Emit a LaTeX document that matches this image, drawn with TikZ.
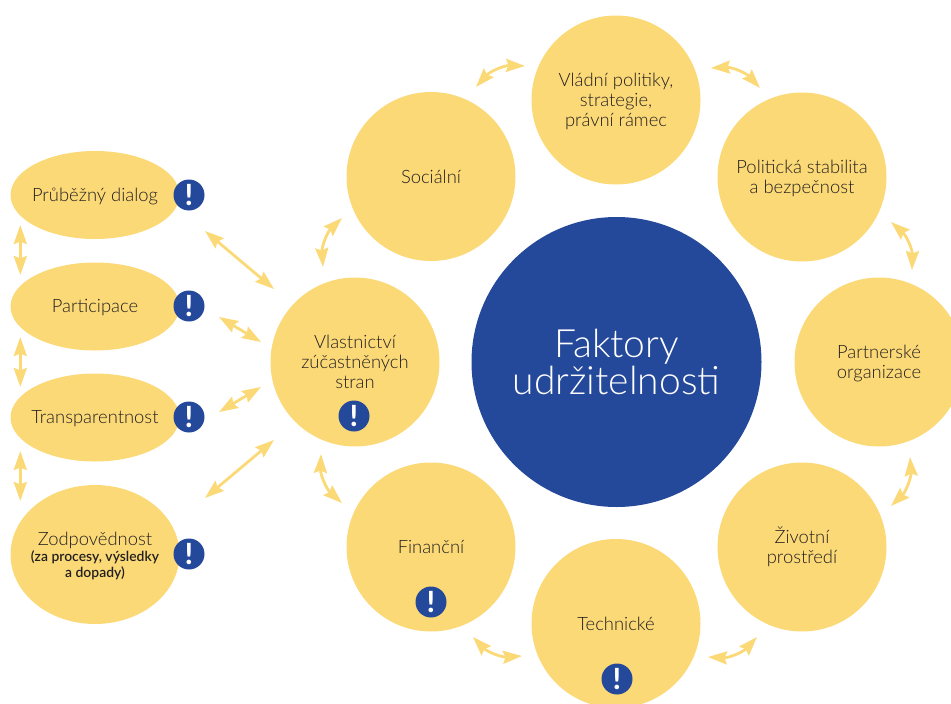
\documentclass[tikz,border=0pt]{standalone}
\usepackage{fontspec}
\setmainfont{Carlito}
\newfontfamily\lightface{Lato Light}
\usetikzlibrary{arrows.meta,shapes.geometric}
\definecolor{ylw}{HTML}{FBD977}
\definecolor{blu}{HTML}{24489A}
\definecolor{ink}{HTML}{231F20}
\tikzset{
  factor/.style={circle,fill=ylw,minimum size=169pt,inner sep=0pt,align=center,text=ink,font=\lightface\fontsize{18.4}{20}\selectfont},
  oval/.style={ellipse,fill=ylw,minimum width=169pt,inner sep=0pt},
  ovaltext/.style={align=center,inner sep=0pt,text=ink,font=\lightface\fontsize{18.4}{20}\selectfont},
  badge/.style={circle,fill=blu,minimum size=31pt,inner sep=0pt,text=white,font=\bfseries\fontsize{31}{31}\selectfont},
  dbl/.style={draw=ylw,line width=2.8pt,{Stealth[length=19pt,width=13pt,inset=2.5pt]}-{Stealth[length=19pt,width=13pt,inset=2.5pt]}},
}
\newcommand{\smallbold}{\fontsize{13.9}{16}\selectfont\bfseries}
\newcommand{\lowerit}{\rule{0pt}{17pt}}
\begin{document}
\begin{tikzpicture}[x=1pt,y=-1pt]
\useasboundingbox (0,0) rectangle (951,704);
\clip (0,0) rectangle (951,704);
\node[circle,fill=blu,minimum size=290pt,inner sep=0pt,align=center,text=white,font=\lightface\fontsize{39}{37}\selectfont] (core) at (616.5,362) {Faktory\\udržitelnosti};
\node[factor] (vlada) at (616,100) {\lowerit Vládní politiky,\\strategie,\\právní rámec};
\node[factor] (polit) at (802,177) {\lowerit Politická stabilita\\a bezpečnost};
\node[factor] (partner) at (879,362) {\lowerit Partnerské\\organizace};
\node[factor] (zivot) at (802,547) {Životní\\prostředí};
\node[factor] (tech) at (616,623.5) {Technické};
\node[factor] (fin) at (431,547) {Finanční};
\node[factor] (vlast) at (355,362) {Vlastnictví\\zúčastněných\\stran};
\node[factor] (soc) at (431,176.5) {Sociální};
\node[oval,minimum height=88pt] (dialog) at (95,195) {};
\node[oval,minimum height=88pt] (partic) at (95,306.5) {};
\node[oval,minimum height=88pt] (transp) at (95,417.5) {};
\node[oval,minimum height=139pt] (zodp) at (95,554.5) {};
\node[ovaltext,yshift=-1pt] (dialogt) at (dialog) {Průběžný dialog};
\node[ovaltext,yshift=-1pt] (partict) at (partic) {Participace};
\node[ovaltext,yshift=-1pt] (transpt) at (transp) {Transparentnost};
\node[ovaltext] (zodpt) at (95,556) {Zodpovědnost\\[-4pt]{\smallbold (za procesy, výsledky}\\[-4pt]{\smallbold a dopady)}};
\node[badge] (b1) at (189,195) {!};
\node[badge] (b2) at (189,306) {!};
\node[badge] (b3) at (189,417) {!};
\node[badge] (b4) at (189,554) {!};
\node[badge] (b5) at (354,416) {!};
\node[badge] (b6) at (431,602) {!};
\node[badge] (b7) at (617,679) {!};
\coordinate (a1) at (476,87); \coordinate (a2) at (525,66);
\coordinate (a3) at (711,68); \coordinate (a4) at (760,88);
\coordinate (a5) at (891,222); \coordinate (a6) at (912,270);
\coordinate (a7) at (910,457); \coordinate (a8) at (891,506);
\coordinate (a9) at (757,637); \coordinate (a10) at (708,657);
\coordinate (a11) at (522,656); \coordinate (a12) at (473,637);
\coordinate (a13) at (342,503); \coordinate (a14) at (321,454);
\coordinate (a15) at (323,267); \coordinate (a16) at (342,218);
\draw[dbl] (a1) to[bend left=25] (a2);
\draw[dbl] (a3) to[bend left=25] (a4);
\draw[dbl] (a5) to[bend left=25] (a6);
\draw[dbl] (a7) to[bend left=25] (a8);
\draw[dbl] (a9) to[bend left=25] (a10);
\draw[dbl] (a11) to[bend left=25] (a12);
\draw[dbl] (a13) to[bend left=25] (a14);
\draw[dbl] (a15) to[bend left=25] (a16);
\coordinate (l1) at (205,231); \coordinate (l2) at (274,289);
\coordinate (l3) at (219,317); \coordinate (l4) at (261,342);
\coordinate (l5) at (219,412); \coordinate (l6) at (261,387);
\coordinate (l7) at (205,498); \coordinate (l8) at (274,440);
\draw[dbl] (l1) -- (l2);
\draw[dbl] (l3) -- (l4);
\draw[dbl] (l5) -- (l6);
\draw[dbl] (l7) -- (l8);
\coordinate (v1) at (20.3,225); \coordinate (v2) at (20.3,275);
\coordinate (v3) at (20.3,337); \coordinate (v4) at (20.3,387);
\coordinate (v5) at (20.3,451); \coordinate (v6) at (20.3,501);
\draw[dbl] (v1) -- (v2);
\draw[dbl] (v3) -- (v4);
\draw[dbl] (v5) -- (v6);
\end{tikzpicture}
\end{document}
